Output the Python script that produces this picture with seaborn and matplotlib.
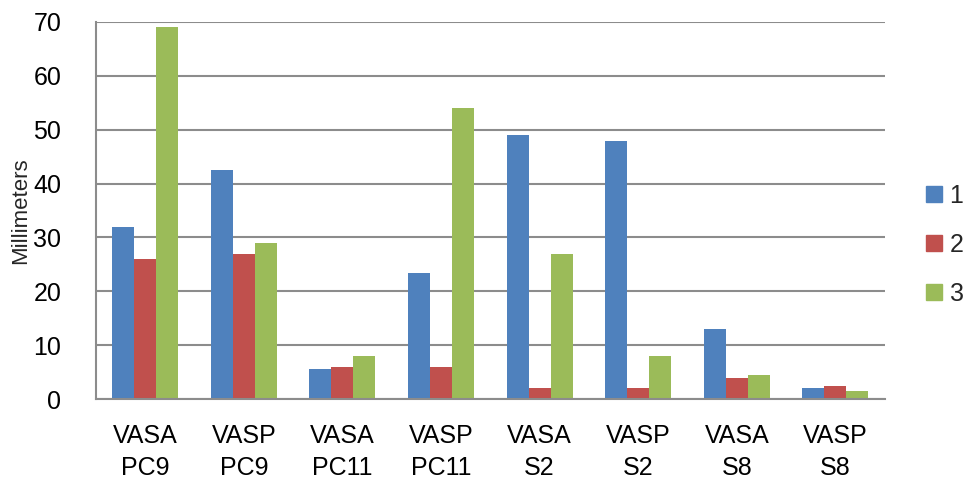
import pandas as pd
import matplotlib
matplotlib.use('Agg')
import matplotlib.pyplot as plt
import seaborn as sns
from matplotlib.patches import Patch

categories = ['VASA\nPC9', 'VASP\nPC9', 'VASA\nPC11', 'VASP\nPC11',
              'VASA\nS2', 'VASP\nS2', 'VASA\nS8', 'VASP\nS8']
series_names = ['1', '2', '3']
values_1 = [32, 42.5, 5.5, 23.5, 49, 48, 13, 2]
values_2 = [26, 27, 6, 6, 2, 2, 4, 2.5]
values_3 = [69, 29, 8, 54, 27, 8, 4.5, 1.5]
colors = ['#4F81BD', '#C0504D', '#9BBB59']

rows = []
for name, vals in zip(series_names, [values_1, values_2, values_3]):
    for cat, v in zip(categories, vals):
        rows.append({'Category': cat, 'Series': name, 'Value': v})
df = pd.DataFrame(rows)

sns.set_style('white')
plt.rcParams['font.family'] = ['Liberation Sans', 'DejaVu Sans']

fig = plt.figure(figsize=(9.7, 4.78), dpi=100)
ax = fig.add_axes([0.099, 0.165, 0.813, 0.789])

sns.barplot(data=df, x='Category', y='Value', hue='Series', order=categories,
            hue_order=series_names, palette=colors, width=0.67,
            linewidth=0, saturation=1, ax=ax, legend=False)

ax.set_ylim(0, 70)
ax.set_yticks(range(0, 71, 10))
ax.set_xlim(-0.5, len(categories) - 0.5)
ax.yaxis.grid(True, color='#8c8c8c', linewidth=1.5)
ax.set_axisbelow(True)
for side in ['top', 'right']:
    ax.spines[side].set_visible(False)
for side in ['left', 'bottom']:
    ax.spines[side].set_color('#8c8c8c')
    ax.spines[side].set_linewidth(1.5)

ax.tick_params(axis='both', length=0, labelsize=18, colors='black')
ax.tick_params(axis='y', pad=25)
ax.tick_params(axis='x', pad=18)
for lbl in ax.get_xticklabels():
    lbl.set_linespacing(1.4)
ax.set_xlabel('')
ax.set_ylabel('Millimeters', fontsize=16)
ax.yaxis.set_label_coords(-0.082, 0.5)

handles = [Patch(color=c, label=n) for c, n in zip(colors, series_names)]
fig.legend(handles=handles, loc='center', bbox_to_anchor=(0.974, 0.4875),
           frameon=False, fontsize=18, handlelength=0.64, handleheight=0.64,
           handletextpad=0.3, labelspacing=1.0, borderaxespad=0,
           borderpad=0)

fig.savefig('out.png', dpi=100)
